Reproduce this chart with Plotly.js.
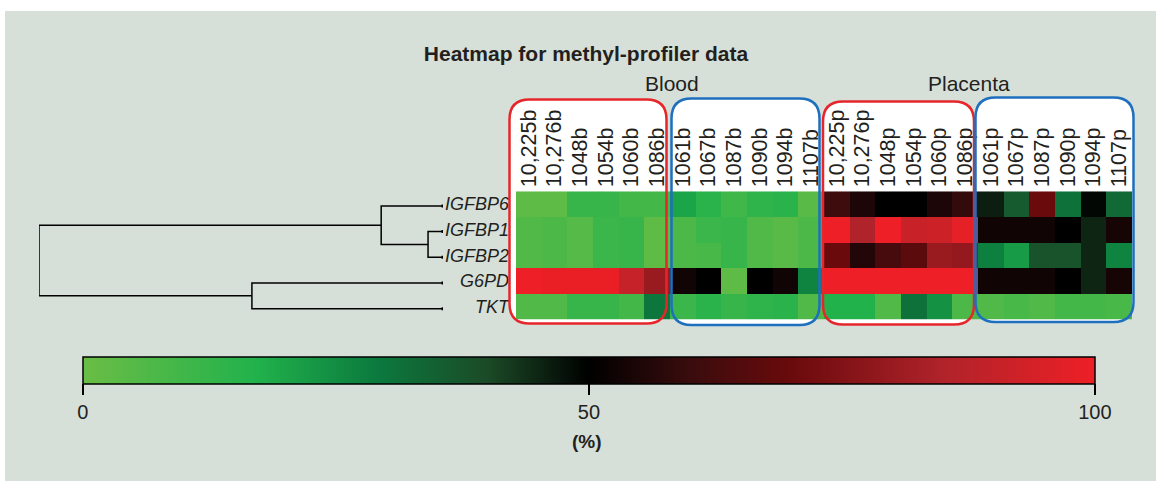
<!DOCTYPE html>
<html>
<head>
<meta charset="utf-8">
<script src="https://cdn.plot.ly/plotly-3.0.1.min.js"></script>
<style>html,body{margin:0;padding:0;background:#fff;}#chart{width:1156px;height:481px;}</style>
</head>
<body>
<div id="chart"></div>
<script>
// ---------- data ----------
const genes = ['IGFBP6', 'IGFBP1', 'IGFBP2', 'G6PD', 'TKT'];
const samples = ['10,225b', '10,276b', '1048b', '1054b', '1060b', '1086b',
                 '1061b', '1067b', '1087b', '1090b', '1094b', '1107b',
                 '10,225p', '10,276p', '1048p', '1054p', '1060p', '1086p',
                 '1061p', '1067p', '1087p', '1090p', '1094p', '1107p'];
const igfbp6 = [3, 3, 12, 12, 9, 9, 20, 15, 10, 14, 15, 4, 61, 55, 50, 50, 55, 59, 46, 36, 70, 31, 49, 33];
const igfbp1 = [6, 7, 5, 11, 12, 3, 7, 11, 12, 6, 4, 7, 100, 85, 100, 91, 92, 98, 53, 53, 53, 50, 45, 54];
const igfbp2 = [6, 7, 5, 11, 12, 3, 7, 8, 12, 6, 4, 7, 70, 56, 63, 67, 80, 79, 28, 22, 38, 38, 45, 27];
const g6pd   = [100, 99, 99, 99, 90, 80, 53, 50, 3, 50, 53, 27, 100, 100, 100, 100, 100, 100, 53, 53, 53, 50, 45, 54];
const tkt    = [6, 6, 12, 12, 9, 30, 11, 15, 12, 14, 15, 6, 17, 17, 6, 31, 24, 7, 6, 8, 6, 9, 9, 8];
const colorTicks = [0, 50, 100];
// dendrogram linkage (children and merge heights)
const mergeLeft   = ['IGFBP1', 'IGFBP6', 'G6PD', 'm1'];
const mergeRight  = ['IGFBP2', 'm0', 'TKT', 'm2'];
const mergeHeight = [0.037, 0.153, 0.473, 1.0];
const groupLabels = ['Blood', 'Placenta'];

// ---------- helpers ----------
const W = 1156, H = 481;
const X = p => p / W, Y = p => 1 - p / H;
const FONT = '"Liberation Sans", Arial, Helvetica, sans-serif';
const TXT = '#231f20';

const z = [igfbp6, igfbp1, igfbp2, g6pd, tkt];
const rowIdx = genes.map((g, i) => i);

const heat = {
  type: 'heatmap', x: samples, y: rowIdx, z: z, zmin: 0, zmax: 100,
  xaxis: 'x', yaxis: 'y',
  colorscale: [[0, '#6abd45'], [0.17, '#22b24c'], [0.29, '#0b7a3e'], [0.4, '#1b4a27'],
               [0.5, '#000000'], [0.6, '#3a0c0d'], [0.7, '#6a0a0c'], [0.85, '#b0232a'], [1, '#ee1f26']],
  colorbar: {
    orientation: 'h', x: X(588.9), xanchor: 'center', y: Y(356.5), yanchor: 'top',
    len: 1012, lenmode: 'pixels', thickness: 27, thicknessmode: 'pixels',
    xpad: 0, ypad: 0, automargin: false,
    outlinecolor: '#000', outlinewidth: 1.5,
    ticks: 'outside', ticklen: 11, tickwidth: 1.5, tickcolor: '#000',
    tickmode: 'array', tickvals: colorTicks, ticktext: colorTicks.map(String),
    tickfont: {family: FONT, size: 20, color: TXT}
  }
};

// dendrogram coordinates computed from linkage
const nodes = {};
genes.forEach((g, i) => nodes[g] = {y: i, h: 0});
const dx = [], dy = [];
mergeLeft.forEach((a, k) => {
  const b = mergeRight[k], h = mergeHeight[k];
  const A = nodes[a], B = nodes[b];
  dx.push(A.h, h, h, B.h, null);
  dy.push(A.y, A.y, B.y, B.y, null);
  nodes['m' + k] = {y: (A.y + B.y) / 2, h: h};
});
const dendro = {
  type: 'scatter', mode: 'lines', x: dx, y: dy, xaxis: 'x2', yaxis: 'y2',
  line: {color: '#000', width: 1.5}, hoverinfo: 'skip', showlegend: false
};
const leaves = {
  type: 'scatter', mode: 'markers', x: genes.map(() => 0), y: rowIdx, xaxis: 'x2', yaxis: 'y2',
  marker: {symbol: 'square', size: 3, color: '#000'}, hoverinfo: 'skip', showlegend: false
};

function rr(x0, y0, x1, y1, r) {
  return `M ${X(x0 + r)},${Y(y0)} L ${X(x1 - r)},${Y(y0)} Q ${X(x1)},${Y(y0)} ${X(x1)},${Y(y0 + r)} ` +
         `L ${X(x1)},${Y(y1 - r)} Q ${X(x1)},${Y(y1)} ${X(x1 - r)},${Y(y1)} ` +
         `L ${X(x0 + r)},${Y(y1)} Q ${X(x0)},${Y(y1)} ${X(x0)},${Y(y1 - r)} ` +
         `L ${X(x0)},${Y(y0 + r)} Q ${X(x0)},${Y(y0)} ${X(x0 + r)},${Y(y0)} Z`;
}
const RED = '#e6262b', BLUE = '#1f6fbf';
const boxes = [
  [509.5, 99.5, 666.5, 323.5, RED],
  [671.5, 98.5, 819.5, 325, BLUE],
  [823, 101.5, 974, 324.5, RED],
  [975.5, 97.5, 1133.5, 322, BLUE]
];
const shapes = [{type: 'rect', xref: 'paper', yref: 'paper', x0: X(5), x1: 1, y0: 0, y1: Y(11),
                 fillcolor: '#d6e0d8', line: {width: 0}, layer: 'below'}];
boxes.forEach(b => shapes.push({type: 'path', xref: 'paper', yref: 'paper', path: rr(b[0], b[1], b[2], b[3], 20),
  fillcolor: '#ffffff', line: {width: 0}, layer: 'below'}));
boxes.forEach(b => shapes.push({type: 'path', xref: 'paper', yref: 'paper', path: rr(b[0], b[1], b[2], b[3], 20),
  fillcolor: 'rgba(0,0,0,0)', line: {color: b[4], width: 2.5}, layer: 'above'}));

const yDom = [Y(319.7), Y(191.3)];
const annotations = groupLabels.map((t, i) => ({
  text: t, xref: 'paper', yref: 'paper', x: X([671.5, 969][i]), y: Y(83),
  xanchor: 'center', yanchor: 'middle', showarrow: false,
  font: {family: FONT, size: 21, color: TXT}
}));
annotations.push({text: '<b>(%)</b>', xref: 'paper', yref: 'paper', x: X(587), y: Y(441),
  xanchor: 'center', yanchor: 'middle', showarrow: false, font: {family: FONT, size: 19, color: TXT}});

const layout = {
  width: W, height: H, autosize: false,
  margin: {l: 0, r: 0, t: 0, b: 0, pad: 0, autoexpand: false},
  paper_bgcolor: '#ffffff', plot_bgcolor: 'rgba(0,0,0,0)',
  font: {family: FONT, color: TXT},
  title: {text: '<b>Heatmap for methyl-profiler data</b>', x: X(586), xanchor: 'center',
          y: Y(54), yanchor: 'middle', xref: 'paper', yref: 'paper',
          font: {family: FONT, size: 21, color: TXT}},
  xaxis: {domain: [X(516), X(1132)], side: 'top', type: 'category', tickangle: -90,
          tickmode: 'array', tickvals: samples, ticktext: samples, ticklabelstandoff: 3,
          showgrid: false, zeroline: false, showline: false, ticks: '', automargin: false,
          tickfont: {family: FONT, size: 21.5, color: TXT}, fixedrange: true},
  yaxis: {domain: yDom, range: [4.5, -0.5], tickmode: 'array', tickvals: rowIdx, ticktext: genes,
          ticklabelstandoff: 6,
          showgrid: false, zeroline: false, showline: false, ticks: '', automargin: false,
          tickfont: {family: FONT, size: 18, color: TXT, style: 'italic'}, fixedrange: true},
  xaxis2: {domain: [X(39), X(443)], range: [1.0, 0], anchor: 'y2', visible: false, fixedrange: true},
  yaxis2: {domain: [yDom[0] - 1.8 / H, yDom[1] - 1.8 / H], range: [4.5, -0.5], anchor: 'x2', visible: false, fixedrange: true},
  shapes: shapes,
  annotations: annotations
};

Plotly.newPlot('chart', [heat, dendro, leaves], layout, {displayModeBar: false, staticPlot: true});
</script>
</body>
</html>
